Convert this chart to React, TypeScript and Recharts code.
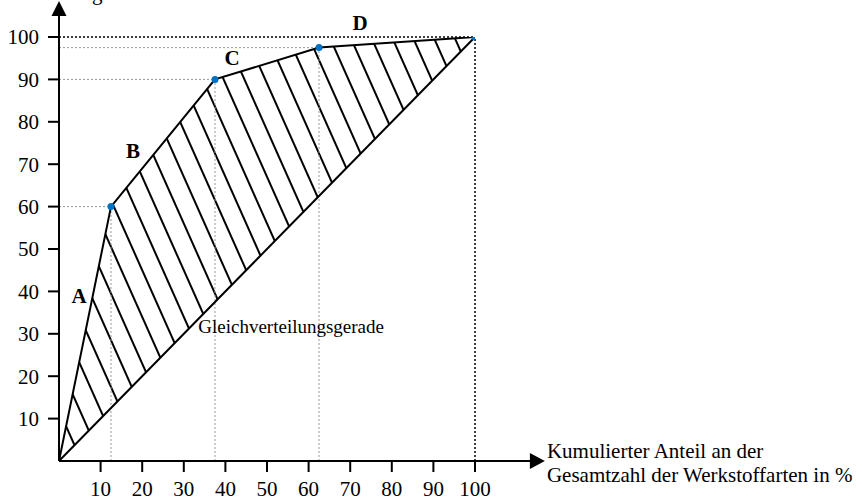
import React from "react"
import { Area, ComposedChart, Line, ReferenceDot, ReferenceLine, XAxis, YAxis } from "recharts"

// ABC-Analyse: kumulierter Anteil der Werkstoffarten vs. kumulierter Wertanteil
const shareItems = [0, 12.5, 37.5, 62.5, 100]
const shareValue = [0, 60, 90, 97.5, 100]
const xTicks = [10, 20, 30, 40, 50, 60, 70, 80, 90, 100]
const yTicks = [10, 20, 30, 40, 50, 60, 70, 80, 90, 100]
const classNames = ["A", "B", "C", "D"]
const classAnchor = [
  [4.8, 38.9],
  [17.8, 73.1],
  [41.6, 95],
  [72.4, 103.3],
]

const rows = shareItems.map((x, i) => ({ x, y: shareValue[i], diag: x }))

const FONT = '"Liberation Serif", "Times New Roman", serif'

function AnnoText(props: any) {
  const { viewBox, lines, size = 21, bold = false, anchor = "middle", lineGap = 24, baseline = "central" } = props
  const x = viewBox.x + (viewBox.width || 0) / 2
  const y = viewBox.y + (viewBox.height || 0) / 2
  return (
    <text
      x={x}
      y={y}
      textAnchor={anchor}
      dominantBaseline={baseline}
      fontFamily={FONT}
      fontSize={size}
      fontWeight={bold ? "bold" : "normal"}
      fill="#000"
    >
      {lines.map((l: string, i: number) => (
        <tspan key={i} x={x} dy={i === 0 ? 0 : lineGap}>
          {l}
        </tspan>
      ))}
    </text>
  )
}

const xArrow = (p: any) => (
  <g>
    <line x1={p.x1} y1={p.y1} x2={p.x2 - 12} y2={p.y2} stroke="#000" strokeWidth={2} />
    <polygon points={`${p.x2},${p.y2} ${p.x2 - 15},${p.y2 - 8} ${p.x2 - 15},${p.y2 + 8}`} fill="#000" />
  </g>
)

const yArrow = (p: any) => (
  <g>
    <line x1={p.x1} y1={p.y1} x2={p.x2} y2={p.y2 + 12} stroke="#000" strokeWidth={2} />
    <polygon points={`${p.x2},${p.y2} ${p.x2 - 7.5},${p.y2 + 15} ${p.x2 + 7.5},${p.y2 + 15}`} fill="#000" />
  </g>
)

const renderDot = (p: any) =>
  p.index === 0 ? <g key={p.index} /> : <circle key={p.index} cx={p.cx} cy={p.cy} r={3.5} fill="#0070c0" />

export default function App() {
  const tick = { fontFamily: FONT, fontSize: 21, fill: "#000" }
  return (
    <div style={{ position: "absolute", left: 0, top: 0, background: "#fff" }}>
      <ComposedChart width={862} height={499} data={rows} margin={{ top: 37, right: 387, bottom: 0, left: 0 }}>
        <defs>
          <pattern id="hatch" patternUnits="userSpaceOnUse" width={19} height={19} patternTransform="rotate(-24)">
            <line x1={1} y1={0} x2={1} y2={19} stroke="#000" strokeWidth={2} />
          </pattern>
        </defs>
        <XAxis
          type="number"
          dataKey="x"
          domain={[0, 100]}
          ticks={xTicks}
          height={38}
          axisLine={false}
          tickSize={11}
          tickMargin={9}
          tickLine={{ stroke: "#000", strokeWidth: 2 }}
          tick={tick}
          allowDataOverflow
        />
        <YAxis
          type="number"
          domain={[0, 100]}
          ticks={yTicks}
          width={59}
          axisLine={false}
          tickSize={11}
          tickMargin={9}
          tickLine={{ stroke: "#000", strokeWidth: 2 }}
          tick={tick}
          allowDataOverflow
        />
        <Area
          dataKey={(d: any) => [d.diag, d.y]}
          type="linear"
          fill="url(#hatch)"
          fillOpacity={1}
          stroke="none"
          isAnimationActive={false}
        />
        {shareItems.slice(1, -1).map((s, i) => (
          <ReferenceLine
            key={"h" + i}
            segment={[{ x: 0, y: shareValue[i + 1] }, { x: s, y: shareValue[i + 1] }]}
            stroke="#999"
            strokeDasharray="2 2"
            strokeWidth={1}
            ifOverflow="visible"
          />
        ))}
        {shareItems.slice(1, -1).map((s, i) => (
          <ReferenceLine
            key={"v" + i}
            segment={[{ x: s, y: 0 }, { x: s, y: shareValue[i + 1] }]}
            stroke="#999"
            strokeDasharray="2 2"
            strokeWidth={1}
            ifOverflow="visible"
          />
        ))}
        <ReferenceLine
          segment={[{ x: 0, y: 100 }, { x: 100, y: 100 }]}
          stroke="#000"
          strokeDasharray="2 2"
          strokeWidth={1.5}
          ifOverflow="visible"
        />
        <ReferenceLine
          segment={[{ x: 100, y: 0 }, { x: 100, y: 100 }]}
          stroke="#000"
          strokeDasharray="2 2"
          strokeWidth={1.5}
          ifOverflow="visible"
        />
        <Line dataKey="diag" type="linear" stroke="#000" strokeWidth={2} dot={false} isAnimationActive={false} />
        <Line dataKey="y" type="linear" stroke="#000" strokeWidth={2} dot={renderDot} isAnimationActive={false} />
        <ReferenceLine segment={[{ x: 0, y: 0 }, { x: 116.8, y: 0 }]} ifOverflow="visible" shape={xArrow} />
        <ReferenceLine segment={[{ x: 0, y: 0 }, { x: 0, y: 108.5 }]} ifOverflow="visible" shape={yArrow} />
        {classNames.map((n, i) => (
          <ReferenceDot
            key={n}
            x={classAnchor[i][0]}
            y={classAnchor[i][1]}
            r={0}
            fill="none"
            stroke="none"
            ifOverflow="visible"
            label={<AnnoText lines={[n]} bold />}
          />
        ))}
        <ReferenceDot
          x={55.8}
          y={31.8}
          r={0}
          fill="none"
          stroke="none"
          ifOverflow="visible"
          label={<AnnoText lines={["Gleichverteilungsgerade"]} size={19} />}
        />
        <ReferenceDot
          x={117.3}
          y={0.7}
          r={0}
          fill="none"
          stroke="none"
          ifOverflow="visible"
          label={
            <AnnoText
              lines={["Kumulierter Anteil an der", "Gesamtzahl der Werkstoffarten in %"]}
              anchor="start"
              baseline="auto"
            />
          }
        />
        <ReferenceDot
          x={-0.2}
          y={108.7}
          r={0}
          fill="none"
          stroke="none"
          ifOverflow="visible"
          label={<AnnoText lines={["Ausgabenanteil in %"]} anchor="start" baseline="auto" />}
        />
      </ComposedChart>
    </div>
  )
}
